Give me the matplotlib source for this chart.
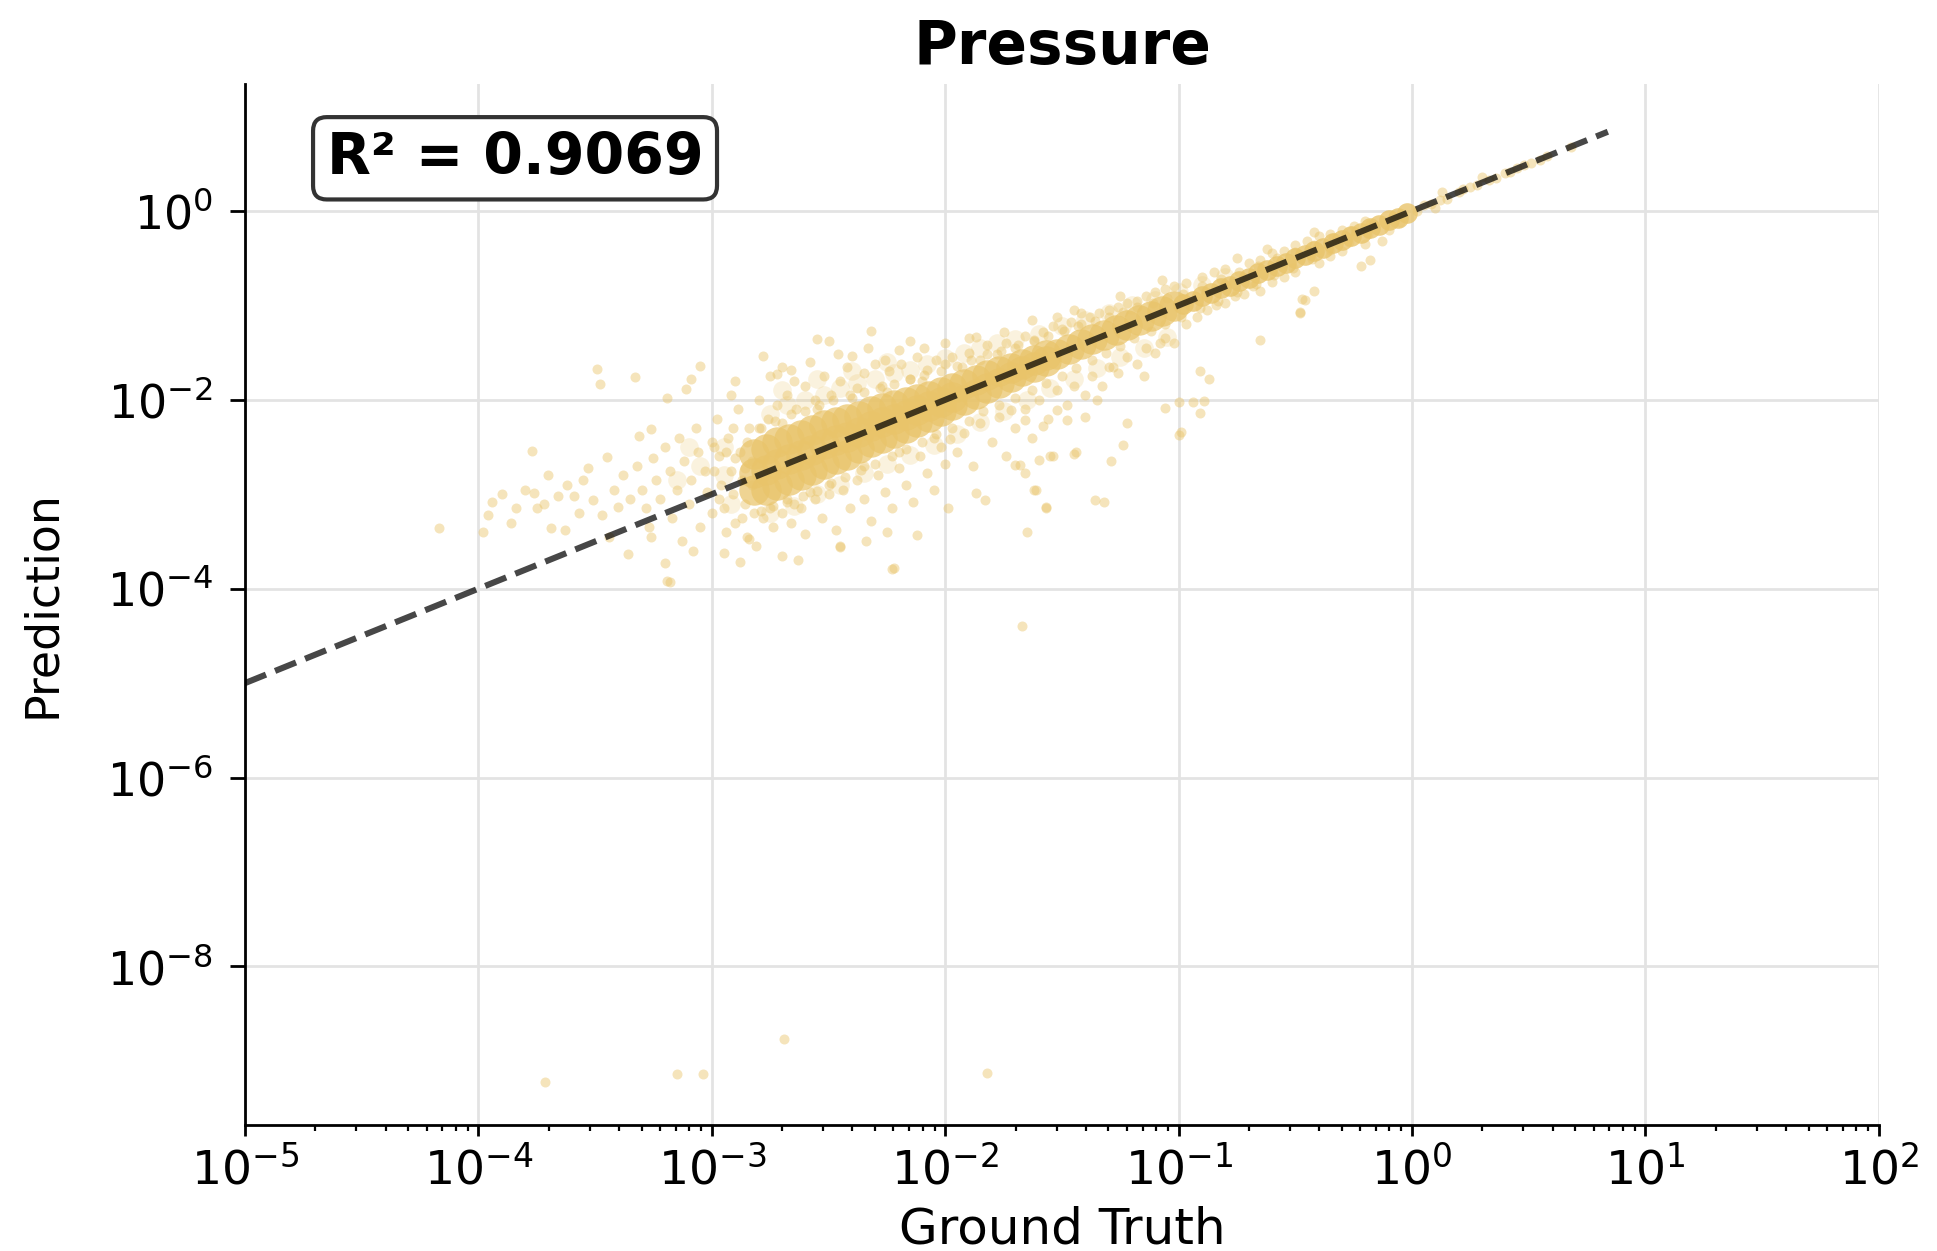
import numpy as np
import matplotlib
matplotlib.use("Agg")
import matplotlib.pyplot as plt
from matplotlib.ticker import FixedLocator, NullLocator

# ---------------- data (log10 of ground truth, log10 of prediction) ----------------
# dense core of the cloud (wide part)
core_wide_points = [
    (-2.82, -2.96), (-2.82, -2.77), (-2.82, -2.57),
    (-2.77, -2.96), (-2.77, -2.74), (-2.77, -2.52),
    (-2.72, -2.90), (-2.72, -2.68), (-2.72, -2.45),
    (-2.67, -2.85), (-2.67, -2.63), (-2.67, -2.42),
    (-2.62, -2.80), (-2.62, -2.58), (-2.62, -2.37),
    (-2.57, -2.74), (-2.57, -2.53), (-2.57, -2.32),
    (-2.52, -2.68), (-2.52, -2.47), (-2.52, -2.27),
    (-2.47, -2.63), (-2.47, -2.43), (-2.47, -2.24),
    (-2.42, -2.58), (-2.42, -2.39), (-2.42, -2.20),
    (-2.37, -2.51), (-2.37, -2.34), (-2.37, -2.17),
    (-2.32, -2.45), (-2.32, -2.28), (-2.32, -2.12),
    (-2.27, -2.40), (-2.27, -2.24), (-2.27, -2.09),
    (-2.22, -2.35), (-2.22, -2.20), (-2.22, -2.06),
    (-2.17, -2.30), (-2.17, -2.16), (-2.17, -2.02),
    (-2.12, -2.24), (-2.12, -2.11), (-2.12, -1.99),
    (-2.07, -2.18), (-2.07, -2.07), (-2.07, -1.96),
    (-2.02, -2.12), (-2.02, -2.02), (-2.02, -1.92),
    (-1.97, -2.06), (-1.97, -1.97), (-1.97, -1.88),
    (-1.92, -2.00), (-1.92, -1.83),
    (-1.87, -1.94), (-1.87, -1.79),
    (-1.82, -1.88), (-1.82, -1.74),
    (-1.77, -1.82), (-1.77, -1.70),
    (-1.72, -1.76), (-1.72, -1.66),
    (-1.67, -1.70), (-1.67, -1.62),
    (-1.62, -1.65), (-1.62, -1.58),
    (-1.57, -1.59), (-1.57, -1.53),
    (-1.52, -1.51), (-1.47, -1.46), (-1.42, -1.41), (-1.37, -1.36),
    (-1.32, -1.31), (-1.27, -1.26), (-1.22, -1.21), (-1.17, -1.16),
    (-1.12, -1.11), (-1.07, -1.06), (-1.02, -1.01),
]

# dense core of the cloud (thin part)
core_thin_points = [
    (-0.98, -0.99), (-0.94, -0.95), (-0.90, -0.90), (-0.86, -0.87), (-0.82, -0.82),
    (-0.78, -0.79), (-0.74, -0.74), (-0.70, -0.71), (-0.66, -0.66), (-0.62, -0.63),
    (-0.58, -0.58), (-0.54, -0.55), (-0.50, -0.50), (-0.46, -0.47), (-0.42, -0.42),
    (-0.38, -0.39), (-0.34, -0.34), (-0.30, -0.31), (-0.26, -0.26), (-0.22, -0.23),
    (-0.18, -0.18), (-0.14, -0.15), (-0.10, -0.10), (-0.06, -0.07), (-0.02, -0.02),
]

# medium-density fog around the core
fog_points = [
    (-2.75, -2.15), (-2.68, -2.05), (-2.60, -2.00), (-2.52, -1.95), (-2.45, -1.88),
    (-2.38, -1.82), (-2.30, -1.78), (-2.22, -1.72), (-2.15, -1.68), (-2.08, -1.62),
    (-2.00, -1.56), (-1.92, -1.50), (-1.85, -1.45), (-1.78, -1.40), (-2.70, -1.90),
    (-2.55, -1.78), (-2.40, -1.70), (-2.25, -1.60),
    (-2.75, -3.20), (-2.65, -3.12), (-2.55, -3.00), (-2.45, -2.90), (-2.35, -2.78),
    (-2.25, -2.68), (-2.15, -2.58), (-2.05, -2.48), (-1.95, -2.36), (-1.85, -2.24),
    (-1.75, -2.12), (-1.65, -2.00), (-1.55, -1.88), (-1.45, -1.78), (-1.35, -1.66),
    (-1.25, -1.55), (-1.15, -1.45), (-1.05, -1.33),
    (-1.70, -1.36), (-1.60, -1.30), (-1.50, -1.22), (-1.40, -1.15), (-1.30, -1.08),
    (-1.20, -1.00), (-1.10, -0.94), (-1.00, -0.86), (-0.90, -0.78), (-0.80, -0.70),
    (-2.95, -2.80), (-2.95, -2.50), (-2.92, -3.10), (-3.05, -2.70), (-3.10, -2.50),
    (-3.15, -2.85),
]

# sparse left tail
tail_points = [
    (-4.17, -3.36), (-3.98, -3.40), (-3.96, -3.22), (-3.94, -3.08), (-3.84, -3.15),
    (-3.77, -2.54), (-3.76, -2.99), (-3.75, -3.15), (-3.69, -3.36), (-3.66, -3.02),
    (-3.63, -3.38), (-3.59, -3.02), (-3.55, -2.85), (-3.51, -3.06), (-3.48, -1.83),
    (-3.49, -1.67), (-3.45, -2.61), (-3.40, -3.13), (-3.36, -3.63), (-3.33, -1.76),
    (-3.31, -2.38), (-3.26, -2.31), (-3.26, -3.45), (-3.20, -3.73), (-3.18, -3.93),
    (-3.19, -1.98), (-3.11, -1.89), (-3.09, -1.78), (-3.05, -1.64),
    (-3.42, -2.95), (-3.38, -2.80), (-3.35, -3.05), (-3.32, -2.70), (-3.30, -2.95),
    (-3.28, -3.15), (-3.25, -2.62), (-3.24, -2.85), (-3.22, -3.05), (-3.20, -2.50),
    (-3.18, -2.75), (-3.17, -3.25), (-3.15, -2.95), (-3.14, -2.40), (-3.12, -2.65),
    (-3.10, -3.10), (-3.09, -2.85), (-3.07, -2.30), (-3.06, -2.55), (-3.05, -3.35),
    (-3.03, -2.75), (-3.02, -2.98), (-3.00, -2.45), (-3.00, -3.20), (-3.47, -3.22),
    (-3.53, -2.72), (-3.57, -3.20), (-3.62, -2.90), (-3.70, -2.80), (-3.72, -3.10),
    (-3.80, -2.95), (-3.86, -3.30), (-3.90, -3.00), (-3.44, -3.45), (-3.27, -3.35),
    (-3.13, -3.50), (-3.08, -3.60),
    (-2.99, -2.75), (-2.97, -3.05), (-2.94, -2.55), (-2.90, -2.62), (-2.87, -3.25),
    (-2.85, -2.45), (-2.83, -2.90), (-2.86, -2.72), (-2.91, -2.30), (-2.99, -2.50),
]

# halo hugging the edges of the dense core
halo_near_points = [
    (-2.79, -2.30), (-2.79, -3.18), (-2.73, -2.22), (-2.74, -3.12), (-2.66, -2.15),
    (-2.68, -3.08), (-2.60, -2.12), (-2.61, -3.02), (-2.54, -2.05), (-2.55, -2.97),
    (-2.48, -2.00), (-2.49, -2.88), (-2.41, -1.95), (-2.43, -2.82), (-2.35, -1.92),
    (-2.36, -2.74), (-2.28, -1.88), (-2.30, -2.68), (-2.22, -1.83), (-2.23, -2.60),
    (-2.15, -1.78), (-2.17, -2.52), (-2.09, -1.74), (-2.10, -2.45), (-2.02, -1.70),
    (-2.04, -2.36), (-1.95, -1.64), (-1.97, -2.30), (-1.89, -1.58), (-1.90, -2.22),
    (-1.82, -1.52), (-1.84, -2.12), (-1.76, -1.48), (-1.77, -2.05), (-1.69, -1.42),
    (-1.70, -1.98), (-1.62, -1.37), (-1.63, -1.90), (-1.56, -1.32), (-1.57, -1.82),
    (-1.49, -1.27), (-1.50, -1.75), (-1.43, -1.22), (-1.44, -1.66), (-1.36, -1.17),
    (-1.37, -1.58), (-1.30, -1.12), (-1.31, -1.50), (-1.24, -1.07), (-1.25, -1.43),
    (-1.18, -1.02), (-1.19, -1.35), (-1.11, -0.97), (-1.12, -1.27), (-1.05, -0.92),
    (-1.06, -1.20), (-0.98, -0.88), (-0.99, -1.12), (-0.90, -0.80), (-0.91, -1.03),
    (-0.82, -0.72), (-0.83, -0.95), (-0.74, -0.65), (-0.75, -0.86), (-0.66, -0.58),
    (-0.67, -0.77), (-0.58, -0.50), (-0.59, -0.68), (-0.50, -0.43), (-0.51, -0.60),
    (-0.42, -0.36), (-0.43, -0.51), (-0.34, -0.29), (-0.35, -0.41), (-0.26, -0.21),
    (-0.27, -0.33), (-0.18, -0.14), (-0.19, -0.24),
]

# halo below the dense core
halo_low_points = [
    (-2.98, -2.2), (-2.97, -2.6), (-2.96, -2.9), (-2.95, -3.15), (-2.94, -3.4),
    (-2.93, -2.4), (-2.92, -2.75), (-2.91, -3.0), (-2.90, -3.3), (-2.88, -2.55),
    (-2.87, -2.85), (-2.86, -3.1), (-2.85, -3.45), (-2.84, -2.3), (-2.83, -2.65),
    (-2.82, -3.2), (-2.81, -3.55), (-2.95, -3.62), (-2.88, -3.72),
    (-2.78, -3.25), (-2.74, -3.35), (-2.70, -3.2), (-2.66, -3.3), (-2.62, -3.15),
    (-2.60, -3.42), (-2.56, -3.05), (-2.53, -3.25), (-2.50, -3.0), (-2.47, -3.38),
    (-2.44, -2.95), (-2.41, -3.15), (-2.38, -2.85), (-2.35, -3.05), (-2.32, -3.28),
    (-2.29, -2.8), (-2.26, -2.98), (-2.23, -3.15), (-2.20, -2.72), (-2.17, -2.9),
    (-2.14, -3.08), (-2.11, -2.6), (-2.08, -2.78), (-2.05, -2.95), (-2.02, -2.5),
    (-2.00, -2.68), (-2.58, -2.98), (-2.68, -3.05), (-2.45, -3.55), (-2.25, -3.4),
    (-2.75, -3.15), (-2.65, -3.1), (-2.50, -2.9), (-2.35, -2.7), (-2.20, -2.55),
    (-2.05, -2.4),
    (-2.23, -3.79), (-2.45, -3.56), (-2.34, -3.50), (-2.70, -3.65), (-2.63, -3.70),
    (-2.84, -3.47), (-2.12, -3.43), (-1.99, -3.15), (-1.87, -2.99), (-1.83, -3.06),
    (-1.65, -3.40), (-1.57, -3.13), (-1.62, -2.96), (-1.45, -2.57), (-1.55, -2.60),
    (-1.68, -2.69), (-1.60, -2.64), (-1.36, -3.06),
    (-1.98, -2.42), (-1.95, -2.55), (-1.92, -2.35), (-1.88, -2.7), (-1.85, -2.25),
    (-1.80, -2.45), (-1.77, -2.18), (-1.74, -2.6), (-1.70, -2.3), (-1.66, -2.1),
    (-1.63, -2.4), (-1.60, -2.0), (-1.56, -2.2), (-1.52, -1.9), (-1.48, -2.05),
    (-1.45, -1.85), (-1.40, -1.95), (-1.37, -1.75), (-1.33, -1.85), (-1.30, -1.65),
    (-1.26, -1.72), (-1.22, -1.55), (-1.18, -1.62), (-1.14, -1.45), (-1.10, -1.5),
    (-1.06, -1.35), (-1.02, -1.4),
    (-0.91, -1.70), (-0.87, -1.78), (-0.91, -2.14), (-1.00, -2.02), (-0.94, -2.02),
    (-1.00, -2.37), (-1.06, -2.09), (-1.22, -2.25), (-1.24, -2.48), (-1.29, -2.65),
    (-1.32, -3.08), (-1.57, -3.15), (-1.61, -2.95), (-1.66, -2.78), (-1.70, -2.69),
    (-1.54, -2.60), (-1.44, -2.55), (-1.72, -2.11), (-1.66, -2.21), (-1.58, -2.28),
    (-1.52, -2.11), (-1.48, -2.21), (-1.40, -2.18), (-1.35, -2.0), (-1.28, -1.65),
    (-1.15, -1.75), (-1.08, -1.40),
    (-0.97, -1.2), (-0.92, -1.12), (-0.88, -1.05), (-0.84, -1.0), (-0.80, -0.98),
    (-0.76, -0.9), (-0.72, -0.88), (-0.68, -0.8), (-0.65, -1.37), (-0.65, -0.85),
    (-0.60, -0.75), (-0.55, -0.7), (-0.50, -0.65), (-0.48, -1.07), (-0.47, -0.93),
    (-0.46, -0.94), (-0.48, -1.08), (-0.42, -0.85), (-0.40, -0.55), (-0.35, -0.48),
    (-0.30, -0.42), (-0.22, -0.58), (-0.18, -0.52), (-0.13, -0.32), (-0.20, -0.35),
    (-0.10, -0.2), (-0.05, -0.12), (-0.99, -2.34), (-0.89, -2.01),
]

# halo above the dense core
halo_high_points = [
    (-2.89, -2.1), (-2.80, -2.0), (-2.92, -1.95), (-2.90, -1.8), (-2.80, -2.3),
    (-2.70, -2.25), (-2.55, -2.1), (-2.40, -1.98), (-2.25, -1.92), (-2.10, -1.8),
    (-2.78, -1.54), (-2.75, -1.75), (-2.72, -1.73), (-2.66, -1.68), (-2.55, -1.36),
    (-2.50, -1.38), (-2.32, -1.27), (-2.40, -1.54), (-2.26, -1.58), (-2.20, -1.47),
    (-2.09, -1.45), (-2.00, -1.40), (-1.87, -1.33), (-1.63, -1.15), (-1.52, -1.12),
    (-1.42, -1.08),
    (-2.76, -2.2), (-2.72, -2.05), (-2.68, -1.95), (-2.64, -2.1), (-2.60, -1.85),
    (-2.56, -2.0), (-2.52, -1.75), (-2.49, -1.95), (-2.45, -1.8), (-2.42, -1.65),
    (-2.38, -1.88), (-2.35, -1.72), (-2.30, -1.62), (-2.27, -1.85), (-2.24, -1.7),
    (-2.19, -1.62), (-2.15, -1.78), (-2.12, -1.55), (-2.08, -1.68), (-2.04, -1.58),
    (-2.00, -1.62), (-2.65, -1.8), (-2.58, -1.6), (-2.33, -1.45), (-2.15, -1.38),
    (-2.46, -1.52), (-2.70, -1.65),
    (-1.97, -1.55), (-1.93, -1.65), (-1.90, -1.5), (-1.85, -1.58), (-1.82, -1.42),
    (-1.78, -1.52), (-1.74, -1.4), (-1.70, -1.45), (-1.66, -1.32), (-1.62, -1.38),
    (-1.58, -1.28), (-1.54, -1.22), (-1.50, -1.25), (-1.46, -1.18), (-1.42, -1.2),
    (-1.38, -1.12), (-1.34, -1.08), (-1.30, -1.05), (-1.26, -1.02), (-1.22, -0.98),
    (-1.18, -0.95), (-1.14, -0.9), (-1.10, -0.86), (-1.06, -0.83), (-1.02, -0.8),
    (-1.25, -0.9), (-1.45, -1.05), (-1.75, -1.28), (-1.90, -1.35), (-1.07, -0.73),
    (-0.97, -0.76), (-0.90, -0.7), (-0.85, -0.65), (-0.75, -0.5), (-0.80, -0.62),
    (-0.70, -0.55), (-0.65, -0.52), (-0.60, -0.45), (-0.55, -0.42), (-0.50, -0.36),
    (-0.45, -0.32), (-0.40, -0.27), (-0.35, -0.24), (-0.30, -0.2), (-0.25, -0.16),
    (-0.20, -0.11), (-0.62, -0.4), (-0.42, -0.22),
]

# points along the diagonal above 1
upper_points = [
    (0.02, 0.0), (0.05, 0.06), (0.08, 0.07), (0.12, 0.12), (0.15, 0.13), (0.20, 0.2),
    (0.25, 0.25), (0.28, 0.27), (0.33, 0.33), (0.40, 0.4), (0.42, 0.41), (0.45, 0.45),
    (0.51, 0.51), (0.55, 0.54), (0.58, 0.58), (0.68, 0.68), (0.13, 0.2), (0.10, 0.03),
    (0.30, 0.36), (0.22, 0.23), (0.36, 0.35), (0.48, 0.49),
]

# isolated outliers
outlier_points = [
    (-3.715, -9.22), (-3.149, -9.14), (-3.038, -9.14), (-2.69, -8.77), (-1.82, -9.13),
    (-1.67, -4.40), (-2.22, -3.78), (-3.19, -3.92),
]

line_range = [1e-5, 6.9]
x_major_ticks = [1e-5, 1e-4, 1e-3, 1e-2, 1e-1, 1e0, 1e1, 1e2]
y_major_ticks = [1e-8, 1e-6, 1e-4, 1e-2, 1e0]
r2_text = "R\u00b2 = 0.9069"
title = "Pressure"
xlabel = "Ground Truth"
ylabel = "Prediction"
point_color = "#E9C46A"

# ---------------- figure ----------------
fig = plt.figure(figsize=(9.685, 6.255), dpi=200)
ax = fig.add_axes([0.1265, 0.1007, 0.8435, 0.8322])

def to_xy(points):
    arr = np.array(points, dtype=float)
    return 10 ** arr[:, 0], 10 ** arr[:, 1]

sparse = (tail_points + halo_near_points + halo_low_points + halo_high_points
          + upper_points + outlier_points)
sx, sy = to_xy(sparse)
fx, fy = to_xy(fog_points)
wx, wy = to_xy(core_wide_points)
tx, ty = to_xy(core_thin_points)

ax.scatter(fx, fy, s=45, color=point_color, alpha=0.22, linewidths=0, zorder=2)
ax.scatter(sx, sy, s=13, color=point_color, alpha=0.45, linewidths=0, zorder=2)
ax.scatter(wx, wy, s=120, color=point_color, alpha=0.72, linewidths=0, zorder=2)
ax.scatter(tx, ty, s=55, color=point_color, alpha=0.8, linewidths=0, zorder=2)

ax.plot(line_range, line_range, linestyle="--", color="black", alpha=0.72,
        linewidth=2.2, zorder=3)

ax.set_xscale("log")
ax.set_yscale("log")
ax.set_xlim(1e-5, 1e2)
ax.set_ylim(10 ** -9.68, 10 ** 1.345)

x_minor_ticks = [m * d for d in x_major_ticks[:-1] for m in range(2, 10)]
ax.xaxis.set_major_locator(FixedLocator(x_major_ticks))
ax.xaxis.set_minor_locator(FixedLocator(x_minor_ticks))
ax.yaxis.set_major_locator(FixedLocator(y_major_ticks))
ax.yaxis.set_minor_locator(NullLocator())

ax.grid(True, which="major", color="#e3e3e3", linewidth=1.0, zorder=0)
ax.set_axisbelow(True)

for side in ("top", "right"):
    ax.spines[side].set_visible(False)
for side in ("left", "bottom"):
    ax.spines[side].set_linewidth(1.0)
    ax.spines[side].set_color("black")

ax.tick_params(axis="x", which="major", labelsize=17, length=3.8, width=1.0, pad=4)
ax.tick_params(axis="x", which="minor", length=2.2, width=0.8, labelbottom=False)
ax.tick_params(axis="y", which="major", labelsize=16.5, length=5.5, width=1.0, pad=6)

ax.set_title(title, fontsize=21.5, fontweight="bold", pad=7)
ax.set_xlabel(xlabel, fontsize=18, labelpad=4)
ax.set_ylabel(ylabel, fontsize=16.5, labelpad=15)

ax.text(0.05, 0.955, r2_text, transform=ax.transAxes, fontsize=20.5, fontweight="bold",
        ha="left", va="top", zorder=5,
        bbox=dict(boxstyle="round,pad=0.24", facecolor="white", edgecolor="#333333",
                  linewidth=1.5))

fig.savefig("out.png", dpi=200)
